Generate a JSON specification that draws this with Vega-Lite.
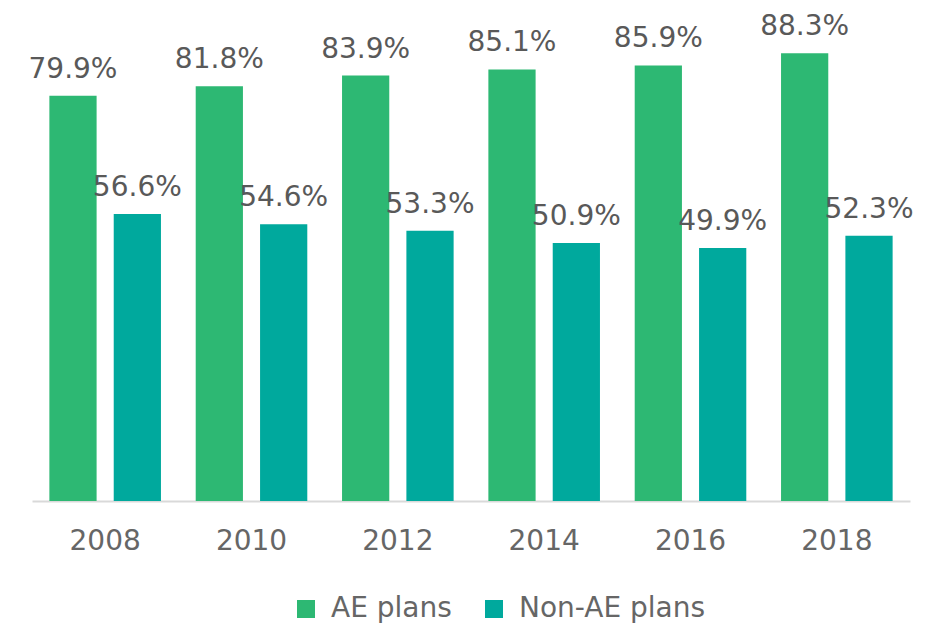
{
  "$schema": "https://vega.github.io/schema/vega-lite/v6.json",
  "autosize": "none",
  "width": 878,
  "height": 501,
  "padding": {"left": 32, "top": 0, "right": 28, "bottom": 123},
  "background": "white",
  "config": {
    "view": {"stroke": null},
    "font": "DejaVu Sans",
    "axis": {"labelFont": "DejaVu Sans"},
    "legend": {"labelFont": "DejaVu Sans"}
  },
  "data": {
    "values": [
      {"year": "2008", "series": "AE plans", "value": 0.799},
      {"year": "2008", "series": "Non-AE plans", "value": 0.566},
      {"year": "2010", "series": "AE plans", "value": 0.818},
      {"year": "2010", "series": "Non-AE plans", "value": 0.546},
      {"year": "2012", "series": "AE plans", "value": 0.839},
      {"year": "2012", "series": "Non-AE plans", "value": 0.533},
      {"year": "2014", "series": "AE plans", "value": 0.851},
      {"year": "2014", "series": "Non-AE plans", "value": 0.509},
      {"year": "2016", "series": "AE plans", "value": 0.859},
      {"year": "2016", "series": "Non-AE plans", "value": 0.499},
      {"year": "2018", "series": "AE plans", "value": 0.883},
      {"year": "2018", "series": "Non-AE plans", "value": 0.523}
    ]
  },
  "encoding": {
    "x": {
      "field": "year",
      "type": "nominal",
      "scale": {"paddingInner": 0, "paddingOuter": 0},
      "axis": {
        "title": null,
        "labelAngle": 0,
        "labelFontSize": 28,
        "labelColor": "#666666",
        "labelPadding": 26,
        "ticks": false,
        "domainColor": "#d9d9d9",
        "domainWidth": 2,
        "grid": false
      }
    },
    "xOffset": {
      "field": "series",
      "type": "nominal",
      "scale": {"paddingInner": 0.266, "paddingOuter": 0.27}
    },
    "y": {
      "field": "value",
      "type": "quantitative",
      "scale": {"domain": [0, 0.988]},
      "axis": null
    }
  },
  "layer": [
    {
      "mark": {"type": "bar"},
      "encoding": {
        "color": {
          "field": "series",
          "type": "nominal",
          "scale": {"domain": ["AE plans", "Non-AE plans"], "range": ["#2db873", "#00a99d"]},
          "legend": {
            "title": null,
            "orient": "none",
            "direction": "horizontal",
            "legendX": 260,
            "legendY": 595,
            "symbolType": "square",
            "symbolSize": 324,
            "symbolStrokeWidth": 0,
            "symbolOpacity": 1,
            "labelFontSize": 28,
            "labelColor": "#666666",
            "labelOffset": 11,
            "columnPadding": 28,
            "labelLimit": 300
          }
        }
      }
    },
    {
      "mark": {"type": "text", "baseline": "alphabetic", "dy": -18, "fontSize": 28, "color": "#595959"},
      "encoding": {
        "text": {"field": "value", "type": "quantitative", "format": ".1%"}
      }
    }
  ]
}
